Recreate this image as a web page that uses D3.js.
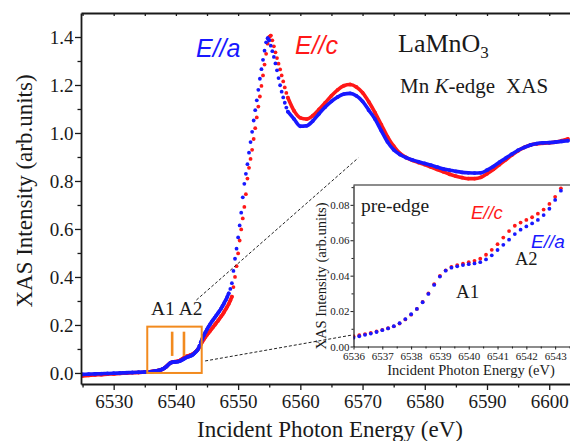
<!DOCTYPE html>
<html>
<head>
<meta charset="utf-8">
<script src="https://d3js.org/d3.v7.min.js"></script>
<style>
  body { margin: 0; background: #fff; }
  text { font-family: "Liberation Serif", "Times New Roman", serif; fill: #1a1a1a; }
  .pol { font-family: "Liberation Sans", Arial, sans-serif; font-style: italic; }
</style>
</head>
<body>
<svg id="chart" width="570" height="441"></svg>
<script>
// photon energies (eV) shared by both polarisations
const energy = [
  6525, 6526, 6527, 6528, 6529, 6530, 6531, 6532, 6533, 6534, 6535,
  6536, 6536.2, 6536.4, 6536.6, 6536.8, 6537, 6537.2, 6537.4, 6537.6, 6537.8,
  6538, 6538.2, 6538.4, 6538.6, 6538.8, 6539, 6539.2, 6539.4, 6539.6, 6539.8,
  6540, 6540.2, 6540.4, 6540.6, 6540.8, 6541, 6541.2, 6541.4, 6541.6, 6541.8,
  6542, 6542.2, 6542.4, 6542.6, 6542.8, 6543, 6543.2, 6543.4, 6543.6, 6543.8, 6544,
  6544.25, 6544.5, 6544.75, 6545, 6545.25, 6545.5, 6545.75, 6546, 6546.25, 6546.5, 6546.75,
  6547, 6547.25, 6547.5, 6547.75, 6548, 6548.25, 6548.5, 6548.75, 6549, 6549.25, 6549.5, 6549.75,
  6550, 6550.25, 6550.5, 6550.75, 6551, 6551.25, 6551.5, 6551.75, 6552, 6552.25, 6552.5, 6552.75,
  6553, 6553.25, 6553.5, 6553.75, 6554, 6554.25, 6554.5, 6554.75, 6555, 6555.25, 6555.5, 6555.75,
  6556, 6556.25, 6556.5, 6556.75, 6557, 6557.25, 6557.5, 6557.75, 6558,
  6559, 6560, 6561, 6562, 6563, 6564, 6565, 6566, 6567, 6568, 6569, 6570, 6571, 6572, 6573,
  6574, 6575, 6576, 6577, 6578, 6579, 6580, 6581, 6582, 6583, 6584, 6585, 6586, 6587, 6588,
  6589, 6590, 6591, 6592, 6593, 6594, 6595, 6596, 6597, 6598, 6599, 6600, 6601, 6602, 6603
];

// E//a intensity
const ellA = [
  -0.006, -0.005, -0.004, -0.003, -0.002, -0.001, 0.000, 0.001, 0.002, 0.003, 0.004,
  0.0050, 0.0058, 0.0066, 0.0073, 0.0082, 0.0092, 0.0102, 0.0115, 0.0132, 0.0155,
  0.0182, 0.0212, 0.0250, 0.0297, 0.0348, 0.0395, 0.0428, 0.0445, 0.0453, 0.0460,
  0.0465, 0.0469, 0.0476, 0.0492, 0.0515, 0.0545, 0.0574, 0.0603, 0.0635, 0.0660,
  0.0678, 0.0695, 0.0715, 0.0742, 0.0778, 0.0828, 0.0880, 0.0935, 0.101, 0.114, 0.128,
  0.143, 0.157, 0.170, 0.182, 0.193, 0.203, 0.213, 0.222, 0.231, 0.240, 0.249,
  0.258, 0.268, 0.279, 0.291, 0.303, 0.317, 0.332, 0.350, 0.374, 0.425, 0.476, 0.518,
  0.565, 0.615, 0.668, 0.732, 0.788, 0.830, 0.870, 0.918, 0.962, 1.005, 1.052, 1.095,
  1.136, 1.180, 1.226, 1.266, 1.305, 1.343, 1.378, 1.395, 1.386, 1.364, 1.341, 1.317,
  1.290, 1.261, 1.229, 1.199, 1.172, 1.148, 1.126, 1.106, 1.089,
  1.058, 1.028, 1.030, 1.050, 1.080, 1.108, 1.132, 1.150, 1.162, 1.165, 1.155, 1.132, 1.095, 1.058, 1.010,
  0.963, 0.930, 0.910, 0.897, 0.888, 0.880, 0.873, 0.866, 0.858, 0.850, 0.845, 0.840, 0.836, 0.834, 0.833,
  0.834, 0.845, 0.860, 0.878, 0.895, 0.912, 0.928, 0.940, 0.950, 0.956, 0.959, 0.960, 0.962, 0.965, 0.968
];

// E//c intensity
const ellC = [
  -0.012, -0.010, -0.008, -0.007, -0.005, -0.004, -0.002, -0.001, 0.001, 0.002, 0.004,
  0.0058, 0.0064, 0.0070, 0.0077, 0.0085, 0.0094, 0.0103, 0.0114, 0.0130, 0.0153,
  0.0180, 0.0212, 0.0252, 0.0300, 0.0352, 0.0398, 0.0430, 0.0450, 0.0460, 0.0468,
  0.0476, 0.0484, 0.0496, 0.0518, 0.0546, 0.0578, 0.0615, 0.0652, 0.0682, 0.0700,
  0.0715, 0.0730, 0.0750, 0.0773, 0.0805, 0.0845, 0.0893, 0.0945, 0.100, 0.109, 0.119,
  0.130, 0.140, 0.150, 0.159, 0.167, 0.175, 0.184, 0.192, 0.200, 0.209, 0.217,
  0.226, 0.235, 0.244, 0.254, 0.265, 0.276, 0.288, 0.302, 0.318, 0.358, 0.400, 0.445,
  0.498, 0.552, 0.598, 0.644, 0.692, 0.745, 0.810, 0.855, 0.892, 0.930, 0.975, 1.020,
  1.065, 1.110, 1.152, 1.196, 1.240, 1.285, 1.330, 1.372, 1.400, 1.406, 1.386, 1.361,
  1.336, 1.312, 1.289, 1.265, 1.240, 1.215, 1.190, 1.167, 1.147,
  1.092, 1.063, 1.058, 1.072, 1.098, 1.126, 1.155, 1.180, 1.197, 1.202, 1.192, 1.168, 1.130, 1.085, 1.035,
  0.985, 0.945, 0.915, 0.898, 0.886, 0.877, 0.868, 0.858, 0.848, 0.838, 0.828, 0.820, 0.814, 0.810, 0.810,
  0.815, 0.830, 0.848, 0.868, 0.888, 0.908, 0.926, 0.940, 0.950, 0.955, 0.957, 0.959, 0.962, 0.968, 0.975
];

const xTicks = [6530, 6540, 6550, 6560, 6570, 6580, 6590, 6600];
const xMinor = [6525, 6535, 6545, 6555, 6565, 6575, 6585, 6595];
const yTicks = [0, 0.2, 0.4, 0.6, 0.8, 1.0, 1.2, 1.4];
const yMinor = [0.1, 0.3, 0.5, 0.7, 0.9, 1.1, 1.3];
const insetXTicks = [6536, 6537, 6538, 6539, 6540, 6541, 6542, 6543];
const insetXMinor = [6536.5, 6537.5, 6538.5, 6539.5, 6540.5, 6541.5, 6542.5, 6543.5];
const insetYTicks = [0, 0.02, 0.04, 0.06, 0.08];
const insetYMinor = [0.01, 0.03, 0.05, 0.07, 0.09];

// pre-edge zoom box and A1/A2 markers (main-plot data units)
const boxE = [6535.4, 6544.15];
const boxI = [0, 0.193];
const markE = [6539.4, 6541.3];
const markI = [0.071, 0.172];

const blue = "#1818ff", red = "#ff1818", orange = "#f28a1e";

const svg = d3.select("#chart");

const x = d3.scaleLinear().domain([6524.75, 6603.5]).range([81, 571]);
const y = d3.scaleLinear().domain([-0.046, 1.5]).range([384, 13]);

const ptsA = energy.map((e, i) => ({ e: e, v: ellA[i] }));
const ptsC = energy.map((e, i) => ({ e: e, v: ellC[i] }));

// join neighbouring points into a line only where the curve is flat enough
// that the dense measured dots merge; steep parts stay as separate dots
function segments(pts, sx, sy) {
  let segs = [], cur = [pts[0]];
  for (let i = 1; i < pts.length; i++) {
    let a = pts[i - 1], b = pts[i];
    let slope = Math.abs((sy(b.v) - sy(a.v)) / (sx(b.e) - sx(a.e)));
    if (slope < 2.6) cur.push(b);
    else { if (cur.length > 1) segs.push(cur); cur = [b]; }
  }
  if (cur.length > 1) segs.push(cur);
  return segs;
}

svg.append("clipPath").attr("id", "mainClip")
  .append("rect").attr("x", 81).attr("y", 13).attr("width", 490).attr("height", 371);

const plot = svg.append("g").attr("clip-path", "url(#mainClip)");
const line = d3.line().x(d => x(d.e)).y(d => y(d.v)).curve(d3.curveMonotoneX);

[[ptsC, red], [ptsA, blue]].forEach(([pts, col]) => {
  plot.selectAll(null).data(segments(pts, x, y)).enter()
    .append("path").attr("d", line)
    .attr("fill", "none").attr("stroke", col).attr("stroke-width", 3.6)
    .attr("stroke-linecap", "round");
  plot.selectAll(null).data(pts).enter()
    .append("circle")
    .attr("cx", d => x(d.e)).attr("cy", d => y(d.v))
    .attr("r", 1.9).attr("fill", col);
});

// axes
function styleAxis(g, size) {
  g.attr("font-family", "Liberation Serif, Times New Roman, serif").attr("font-size", size);
  g.selectAll("text").attr("fill", "#1a1a1a");
  g.selectAll("line").attr("stroke", "#1a1a1a").attr("stroke-width", 1.3);
  g.select(".domain").attr("stroke", "#1a1a1a").attr("stroke-width", 1.8);
}

svg.append("g").attr("transform", "translate(0,384)")
  .call(d3.axisBottom(x).tickValues(xTicks).tickFormat(d3.format("d"))
    .tickSize(6).tickSizeOuter(0).tickPadding(4.5))
  .call(g => styleAxis(g, 19));
svg.append("g").attr("transform", "translate(0,384)")
  .call(d3.axisBottom(x).tickValues(xMinor).tickFormat("").tickSize(3.5))
  .call(g => { styleAxis(g, 19); g.select(".domain").remove(); });

svg.append("g").attr("transform", "translate(0,13)")
  .call(d3.axisTop(x).tickValues(xTicks.concat(xMinor)).tickFormat("")
    .tickSize(-3).tickSizeOuter(0))
  .call(g => styleAxis(g, 19));

svg.append("g").attr("transform", "translate(81,0)")
  .call(d3.axisLeft(y).tickValues(yTicks).tickFormat(d3.format(".1f"))
    .tickSize(6).tickSizeOuter(0).tickPadding(1.5))
  .call(g => styleAxis(g, 19));
svg.append("g").attr("transform", "translate(81,0)")
  .call(d3.axisLeft(y).tickValues(yMinor).tickFormat("").tickSize(3.5))
  .call(g => { styleAxis(g, 19); g.select(".domain").remove(); });

svg.append("text")
  .attr("transform", "translate(32,191) rotate(-90)")
  .attr("text-anchor", "middle").attr("font-size", 23)
  .text("XAS Intensity (arb.units)");
svg.append("text")
  .attr("x", 330).attr("y", 437).attr("text-anchor", "middle").attr("font-size", 23)
  .text("Incident Photon Energy (eV)");

// annotations
svg.append("text").attr("class", "pol").attr("x", 196).attr("y", 57)
  .attr("font-size", 25).style("fill", blue).text("E//a");
svg.append("text").attr("class", "pol").attr("x", 295).attr("y", 54)
  .attr("font-size", 25).style("fill", red).text("E//c");

const lmo = svg.append("text").attr("x", 398).attr("y", 52).attr("font-size", 26);
lmo.append("tspan").text("LaMnO");
lmo.append("tspan").attr("dy", 6).attr("font-size", 17).text("3");

const mk = svg.append("text").attr("x", 400).attr("y", 93).attr("font-size", 21);
mk.append("tspan").text("Mn ");
mk.append("tspan").attr("font-style", "italic").text("K");
mk.append("tspan").text("-edge");
mk.append("tspan").attr("dx", 11).text("XAS");

svg.append("text").attr("x", 151).attr("y", 315).attr("font-size", 19.5).text("A1 A2");

svg.append("rect")
  .attr("x", x(boxE[0])).attr("y", y(boxI[1]))
  .attr("width", x(boxE[1]) - x(boxE[0])).attr("height", y(boxI[0]) - y(boxI[1]))
  .attr("fill", "none").attr("stroke", orange).attr("stroke-width", 2);
svg.selectAll(null).data(markE).enter().append("line")
  .attr("x1", d => x(d)).attr("x2", d => x(d))
  .attr("y1", y(markI[0])).attr("y2", y(markI[1]))
  .attr("stroke", orange).attr("stroke-width", 2.6);

// guide lines from the box towards the inset
const guides = [
  [[6543.3, 0.304], [6569.3, 0.896]],
  [[6544.7, 0.050], [6568.3, 0.158]]
];
svg.selectAll(null).data(guides).enter().append("line")
  .attr("x1", d => x(d[0][0])).attr("y1", d => y(d[0][1]))
  .attr("x2", d => x(d[1][0])).attr("y2", d => y(d[1][1]))
  .attr("stroke", "#222").attr("stroke-width", 1).attr("stroke-dasharray", "3,2");

// inset: pre-edge
const ix = d3.scaleLinear().domain([6536, 6543.55]).range([353.5, 571]);
const iy = d3.scaleLinear().domain([0, 0.0912]).range([346.5, 185]);

svg.append("rect").attr("x", 353.5).attr("y", 185).attr("width", 222).attr("height", 161.5)
  .attr("fill", "#fff");
svg.append("clipPath").attr("id", "insetClip")
  .append("rect").attr("x", 353.5).attr("y", 185).attr("width", 222).attr("height", 161.5);
const inset = svg.append("g").attr("clip-path", "url(#insetClip)");
[[ptsC, red], [ptsA, blue]].forEach(([pts, col]) => {
  inset.selectAll(null).data(pts.filter(d => d.e >= 6535.8 && d.e <= 6543.8)).enter()
    .append("circle")
    .attr("cx", d => ix(d.e)).attr("cy", d => iy(d.v))
    .attr("r", 1.9).attr("fill", col);
});

function styleInset(g) {
  g.attr("font-family", "Liberation Serif, Times New Roman, serif").attr("font-size", 11);
  g.selectAll("text").attr("fill", "#1a1a1a");
  g.selectAll("line").attr("stroke", "#1a1a1a").attr("stroke-width", 1);
  g.select(".domain").attr("stroke", "#1a1a1a").attr("stroke-width", 1.2);
}
svg.append("g").attr("transform", "translate(0,346.5)")
  .call(d3.axisBottom(ix).tickValues(insetXTicks).tickFormat(d3.format("d"))
    .tickSize(3).tickSizeOuter(0).tickPadding(2.5))
  .call(styleInset);
svg.append("g").attr("transform", "translate(0,346.5)")
  .call(d3.axisBottom(ix).tickValues(insetXMinor).tickFormat("").tickSize(2))
  .call(g => { styleInset(g); g.select(".domain").remove(); });
svg.append("g").attr("transform", "translate(353.5,0)")
  .call(d3.axisLeft(iy).tickValues(insetYTicks).tickFormat(d3.format(".2f"))
    .tickSize(3).tickSizeOuter(0).tickPadding(1))
  .call(styleInset);
svg.append("g").attr("transform", "translate(353.5,0)")
  .call(d3.axisLeft(iy).tickValues(insetYMinor).tickFormat("").tickSize(2))
  .call(g => { styleInset(g); g.select(".domain").remove(); });
svg.append("line").attr("x1", 353.5).attr("x2", 571).attr("y1", 185).attr("y2", 185)
  .attr("stroke", "#1a1a1a").attr("stroke-width", 1.2);

svg.append("text").attr("x", 471).attr("y", 374.5).attr("text-anchor", "middle")
  .attr("font-size", 14.5).text("Incident Photon Energy (eV)");
svg.append("text").attr("transform", "translate(326,276) rotate(-90)")
  .attr("text-anchor", "middle").attr("font-size", 14.5).text("XAS Intensity (arb.units)");

svg.append("text").attr("x", 361).attr("y", 212).attr("font-size", 19.5).text("pre-edge");
svg.append("text").attr("class", "pol").attr("x", 471).attr("y", 219)
  .attr("font-size", 18.5).style("fill", red).text("E//c");
svg.append("text").attr("class", "pol").attr("x", 531).attr("y", 248)
  .attr("font-size", 19).style("fill", blue).text("E//a");
svg.append("text").attr("x", 515).attr("y", 265).attr("font-size", 18.5).text("A2");
svg.append("text").attr("x", 456).attr("y", 298).attr("font-size", 19).text("A1");
</script>
</body>
</html>
